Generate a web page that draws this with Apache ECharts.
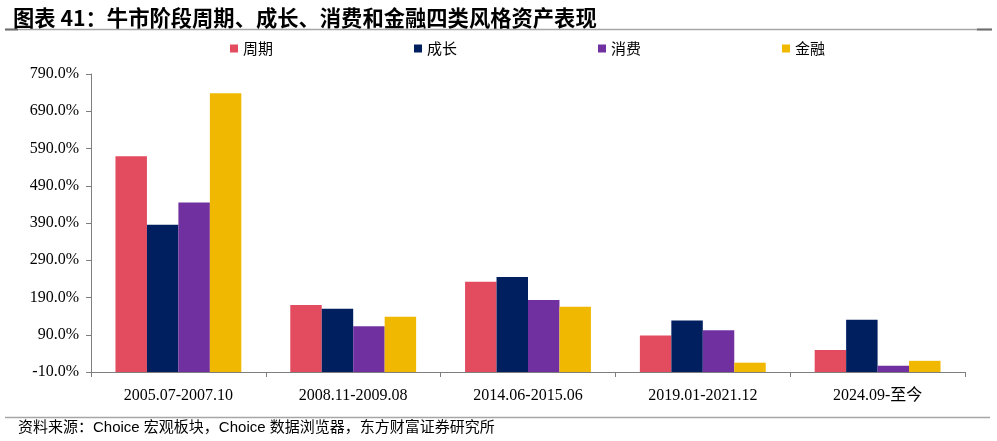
<!DOCTYPE html>
<html>
<head>
<meta charset="utf-8">
<script src="https://cdn.jsdelivr.net/npm/echarts@6/dist/echarts.min.js"></script>
<style>
html,body{margin:0;padding:0;background:#fff;}
#c{width:997px;height:441px;}
</style>
</head>
<body>
<div id="c"></div>
<script>
var categories = ['2005.07-2007.10', '2008.11-2009.08', '2014.06-2015.06', '2019.01-2021.12', '2024.09-至今'];
var seriesNames = ['周期', '成长', '消费', '金融'];
var cyclical = [569, 170, 232, 88, 49];
var growth = [385, 160, 245, 128, 130];
var consumption = [445, 113, 183, 102, 7];
var finance = [738, 138, 165, 15, 20];
var yMin = -10, yMax = 790, yStep = 100;
var colors = ['#E34B5F', '#001F5E', '#7030A0', '#F0B800'];

var allData = [cyclical, growth, consumption, finance];
var chart = echarts.init(document.getElementById('c'), null, {renderer: 'canvas'});
var series = seriesNames.map(function (n, i) {
  return {
    name: n,
    type: 'bar',
    barGap: '0%',
    barCategoryGap: '28%',
    itemStyle: {color: colors[i]},
    // axis crosses at yMin: plot offset from the axis floor
    data: allData[i].map(function (v) { return v - yMin; })
  };
});
chart.setOption({
  animation: false,
  title: {
    text: '图表 41：牛市阶段周期、成长、消费和金融四类风格资产表现',
    left: 8, top: 2,
    textStyle: {fontFamily: 'Noto Sans CJK SC', fontWeight: 'bold', fontSize: 21.3, color: '#000'}
  },
  legend: {
    data: seriesNames,
    left: 225, top: 36,
    itemWidth: 8, itemHeight: 8, itemGap: 141,
    icon: 'rect',
    textStyle: {fontFamily: 'Noto Sans CJK SC', fontSize: 15, color: '#000'}
  },
  grid: {left: 91, right: 32, top: 74, bottom: 69, containLabel: false},
  xAxis: {
    type: 'category',
    data: categories,
    axisLine: {lineStyle: {color: '#7f7f7f', width: 1}},
    axisTick: {show: true, length: 5, lineStyle: {color: '#7f7f7f'}},
    axisLabel: {margin: 16, fontFamily: 'Liberation Serif, Noto Sans CJK SC', fontSize: 16, color: '#000'}
  },
  yAxis: {
    type: 'value',
    min: 0, max: yMax - yMin, interval: yStep,
    splitLine: {show: false},
    axisLine: {show: true, lineStyle: {color: '#7f7f7f'}},
    axisTick: {show: true, length: 5, lineStyle: {color: '#7f7f7f'}},
    axisLabel: {
      margin: 12, fontFamily: 'Liberation Serif', fontSize: 16, color: '#000',
      formatter: function (v) { return (v + yMin).toFixed(1) + '%'; }
    }
  },
  graphic: [
    {type: 'line', shape: {x1: 5, y1: 29.5, x2: 992, y2: 29.5}, style: {stroke: '#a6a6a6', lineWidth: 1.5}},
    {type: 'line', shape: {x1: 5, y1: 29.5, x2: 18, y2: 29.5}, style: {stroke: '#6e6e6e', lineWidth: 2}},
    {type: 'line', shape: {x1: 977, y1: 29.5, x2: 992, y2: 29.5}, style: {stroke: '#6e6e6e', lineWidth: 2}},
    {type: 'line', shape: {x1: 5, y1: 417.5, x2: 990, y2: 417.5}, style: {stroke: '#a6a6a6', lineWidth: 1.5}},
    {type: 'text', left: 18, top: 420,
     style: {text: '资料来源：Choice 宏观板块，Choice 数据浏览器，东方财富证券研究所',
             font: '15px "Liberation Sans", "Noto Sans CJK SC"', fill: '#000'}}
  ],
  series: series
});
</script>
</body>
</html>
